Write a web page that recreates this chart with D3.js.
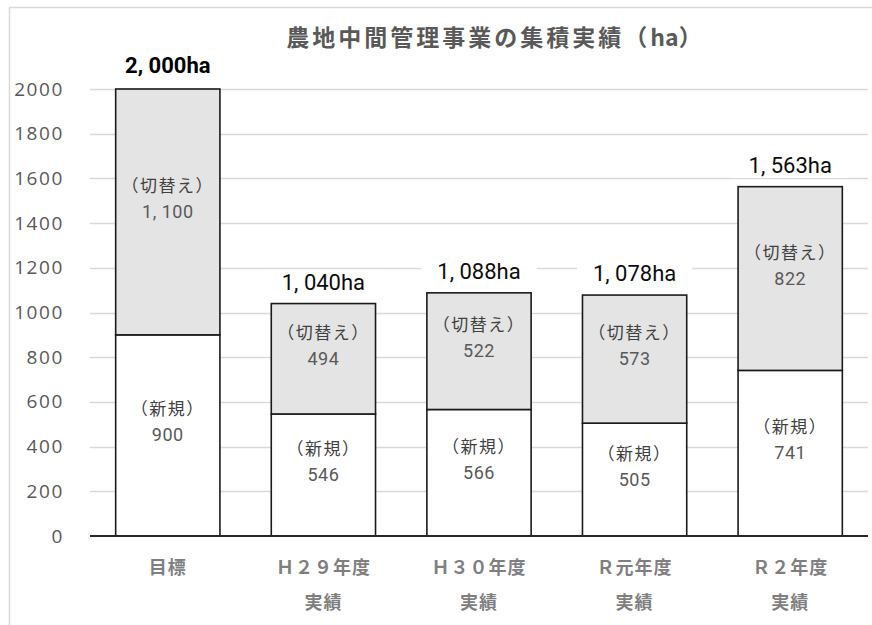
<!DOCTYPE html>
<html>
<head>
<meta charset="utf-8">
<script src="https://cdn.jsdelivr.net/npm/d3@7"></script>
<style>
  html, body { margin: 0; padding: 0; background: #fff; }
  svg { display: block; }
  text { font-family: "Noto Sans CJK JP", "Noto Sans", sans-serif; }
</style>
</head>
<body>
<svg id="chart" width="872" height="625"></svg>
<script>
// 農地中間管理事業の集積実績 (ha)
const categories = [["目標"], ["Ｈ２９年度", "実績"], ["Ｈ３０年度", "実績"], ["Ｒ元年度", "実績"], ["Ｒ２年度", "実績"]];
const newValues = [900, 546, 566, 505, 741];       // 新規
const switchValues = [1100, 494, 522, 573, 822];   // 切替え
const totals = [2000, 1040, 1088, 1078, 1563];
const yTicks = [0, 200, 400, 600, 800, 1000, 1200, 1400, 1600, 1800, 2000];

const svg = d3.select("#chart");
const W = 872, H = 625;
const margin = { left: 90, right: 4, top: 89, bottom: 89 };
const plotBottom = 536;

// outer frame
svg.append("rect")
  .attr("x", 9.5).attr("y", 7.5)
  .attr("width", W + 20).attr("height", H + 20)
  .attr("fill", "none").attr("stroke", "#d9d9d9").attr("stroke-width", 1.5);

const x = d3.scaleBand()
  .domain(d3.range(categories.length))
  .range([margin.left, 868])
  .paddingInner(0.33)
  .paddingOuter(0.165);

const y = d3.scaleLinear().domain([0, 2000]).range([plotBottom, margin.top]);

// gridlines
svg.append("g")
  .selectAll("line")
  .data(yTicks.filter(d => d > 0))
  .join("line")
  .attr("x1", margin.left).attr("x2", 868)
  .attr("y1", d => Math.round(y(d)) + 0.5).attr("y2", d => Math.round(y(d)) + 0.5)
  .attr("stroke", "#d9d9d9").attr("stroke-width", 1.5);

// y axis labels
const yAxis = d3.axisLeft(y).tickValues(yTicks).tickSize(0).tickPadding(0).tickFormat(d3.format("d"));
const yg = svg.append("g").attr("transform", "translate(64,0)").call(yAxis);
yg.select(".domain").remove();
yg.selectAll("text")
  .attr("font-size", 19).attr("fill", "#595959")
  .attr("letter-spacing", 1.6)
  .style("font-family", "'Open Sans', 'Noto Sans', sans-serif");

// stacked bars
const stackData = categories.map((c, i) => ({ i, n: newValues[i], s: switchValues[i] }));
const series = d3.stack().keys(["n", "s"])(stackData);
const fills = { n: "#ffffff", s: "#e4e4e4" };

const bars = svg.append("g");
series.forEach(layer => {
  bars.append("g")
    .selectAll("rect")
    .data(layer)
    .join("rect")
    .attr("x", d => x(d.data.i))
    .attr("width", x.bandwidth())
    .attr("y", d => y(d[1]))
    .attr("height", d => y(d[0]) - y(d[1]))
    .attr("fill", fills[layer.key])
    .attr("stroke", "#1a1a1a").attr("stroke-width", 1.6);
});

// x axis line
svg.append("line")
  .attr("x1", margin.left).attr("x2", 868)
  .attr("y1", plotBottom).attr("y2", plotBottom)
  .attr("stroke", "#262626").attr("stroke-width", 2);

// number format with the wide Japanese-style thousands separator
const jp = d3.formatLocale({ decimal: ".", thousands: ", ", grouping: [3], currency: ["", ""] });
const fmt = jp.format(",");
const segNames = { n: "（新規）", s: "（切替え）" };
series.forEach(layer => {
  const g = svg.append("g");
  layer.forEach(d => {
    const cx = x(d.data.i) + x.bandwidth() / 2;
    const cy = (y(d[0]) + y(d[1])) / 2 - 15;
    g.append("text")
      .attr("x", cx).attr("y", cy - 5)
      .attr("text-anchor", "middle")
      .attr("font-size", 17).attr("fill", "#404040")
      .attr("letter-spacing", 1.5)
      .text(segNames[layer.key]);
    g.append("text")
      .attr("x", cx).attr("y", cy + 21)
      .attr("text-anchor", "middle")
      .attr("font-size", 18).attr("fill", "#595959")
      .attr("letter-spacing", 0.5)
      .style("font-family", "'Roboto', 'Noto Sans', sans-serif")
      .text(fmt(layer.key === "n" ? d.data.n : d.data.s));
  });
});

// total labels with white backing
const tg = svg.append("g");
totals.forEach((t, i) => {
  const cx = x(i) + x.bandwidth() / 2;
  const by = y(t) - (i === 0 ? 16 : 14);
  const txt = tg.append("text")
    .attr("x", cx).attr("y", by)
    .attr("text-anchor", "middle")
    .attr("font-size", 22)
    .attr("font-weight", i === 0 ? "bold" : "normal")
    .attr("fill", i === 0 ? "#000" : "#0d0d0d")
    .style("font-family", "'Roboto', 'Noto Sans', sans-serif")
    .text(fmt(t) + "ha");
  const bb = txt.node().getBBox();
  tg.insert("rect", "text")
    .attr("x", bb.x - 16).attr("y", bb.y)
    .attr("width", bb.width + 32).attr("height", bb.height)
    .attr("fill", "#fff");
});

// x category labels
const xg = svg.append("g");
categories.forEach((lines, i) => {
  const cx = x(i) + x.bandwidth() / 2;
  lines.forEach((s, k) => {
    xg.append("text")
      .attr("x", cx).attr("y", 574 + k * 35)
      .attr("text-anchor", "middle")
      .attr("font-size", 18).attr("font-weight", "bold")
      .attr("letter-spacing", 1)
      .attr("fill", "#7f7f7f")
      .text(s);
  });
});

// title
const title = svg.append("text")
  .attr("x", 494).attr("y", 46)
  .attr("text-anchor", "middle")
  .attr("font-size", 23).attr("font-weight", "bold")
  .attr("fill", "#595959");
title.append("tspan").attr("letter-spacing", 3).text("農地中間管理事業の集積実績（");
title.append("tspan").attr("letter-spacing", 0).text("ha");
title.append("tspan").text("）");
</script>
</body>
</html>
